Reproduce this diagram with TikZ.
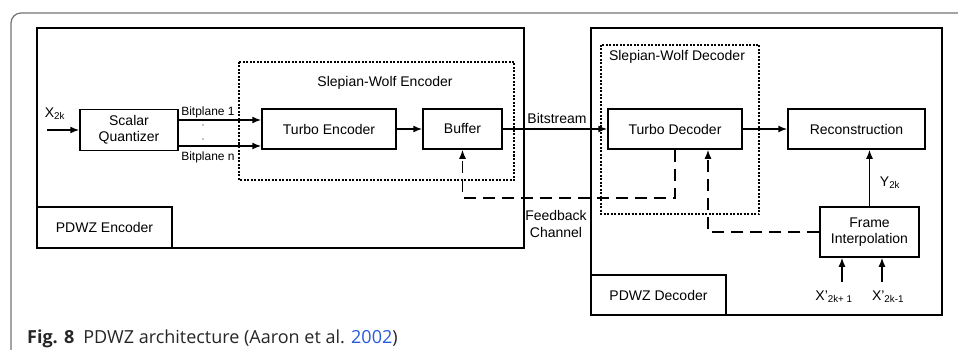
\documentclass[tikz,border=0pt]{standalone}
\usepackage{fontspec}
\setmainfont{Liberation Sans}
\newfontfamily\legendefont{Open Sans}
\usetikzlibrary{arrows.meta}
\definecolor{lien}{RGB}{40,90,220}
\tikzset{
  bloc/.style={draw, line width=1.5pt, align=center, inner sep=0pt, font=\fontsize{14}{16.5}\selectfont},
  texte/.style={inner sep=0pt, font=\fontsize{14}{16.5}\selectfont},
  petit/.style={inner sep=0pt, font=\fontsize{12}{14}\selectfont},
  fleche/.style={-{Latex[length=9pt,width=7pt]}, line width=1.5pt},
  retour/.style={line width=1.5pt, dash pattern=on 12pt off 7pt},
  pointille/.style={line width=1.2pt, dash pattern=on 2pt off 1.5pt},
}
\begin{document}
\begin{tikzpicture}[x=1pt, y=-1pt]
  \useasboundingbox (0,0) rectangle (958,350);
  % cadre de la figure
  \draw[black!55, line width=1.2pt, rounded corners=10pt] (11,350) -- (11,13) -- (958,13);

  % dessiner les cadres encodeur / decodeur
  \draw[line width=1.5pt] (37,28) rectangle (524,248);
  \draw[line width=1.5pt] (591,28) rectangle (942,315);
  \draw[pointille] (239,62) rectangle (514,180);
  \draw[pointille] (601,45) rectangle (759,214);
  \node[texte] (swe) at (385,83) {Slepian-Wolf Encoder};
  \node[texte] (swd) at (677,57) {Slepian-Wolf Decoder};

  % dessiner les blocs
  \node[bloc, minimum width=98pt, minimum height=41pt] (quant) at (129,130) {Scalar\\Quantizer};
  \node[bloc, minimum width=134pt, minimum height=40pt] (tenc) at (329,129) {Turbo Encoder};
  \node[bloc, minimum width=79pt, minimum height=40pt] (buf) at (462.5,129) {Buffer};
  \node[bloc, minimum width=134pt, minimum height=40pt] (tdec) at (675,129) {Turbo Decoder};
  \node[bloc, minimum width=137pt, minimum height=40pt] (recon) at (856.5,129) {Reconstruction};
  \node[bloc, minimum width=99pt, minimum height=50pt] (interp) at (869.5,232) {Frame\\Interpolation};
  \node[bloc, minimum width=135pt, minimum height=41pt] (encl) at (104.5,227.5) {PDWZ Encoder};
  \node[bloc, minimum width=135pt, minimum height=40pt] (decl) at (658.5,295) {PDWZ Decoder};

  % dessiner les fleches
  \coordinate (xin) at (47,130);
  \draw[fleche] (xin) -- (quant.west);
  \node[texte] (x2k) at (55,114) {X\textsubscript{2k}};
  \draw[fleche] (quant.east |- 0,120) -- (tenc.west |- 0,120);
  \draw[fleche] (quant.east |- 0,146) -- (tenc.west |- 0,146);
  \node[petit] (bp1) at (208,112) {Bitplane 1};
  \node[petit] (bpn) at (208,157) {Bitplane n};
  \fill (203,125) circle (0.6pt) (203,139) circle (0.6pt);
  \draw[fleche] (tenc) -- (buf);
  \draw[fleche] (buf) -- (tdec);
  \node[texte] (bits) at (557,118) {Bitstream};
  \draw[fleche] (tdec) -- (recon);
  \draw[fleche] (interp.north) -- (interp.north |- recon.south);
  \node[texte] (y2k) at (890,183) {Y\textsubscript{2k}};

  % canal de retour
  \draw[retour, -{Latex[length=9pt,width=7pt]}] (tdec.south) -- ++(0,48) -| (buf.south);
  \draw[retour, -{Latex[length=9pt,width=7pt]}] (interp.west) -| ([xshift=33pt]tdec.south);
  \node[texte, align=center] (fb) at (556,224) {Feedback\\Channel};

  % images voisines
  \coordinate (xa) at (842,282);
  \coordinate (xb) at (882,282);
  \draw[fleche] (xa) -- (xa |- interp.south);
  \draw[fleche] (xb) -- (xb |- interp.south);
  \node[texte] (xpa) at (834,297) {X'\textsubscript{2k+ 1}};
  \node[texte] (xpb) at (888,297) {X'\textsubscript{2k-1}};

  % legende
  \node[anchor=base west, inner sep=0pt, text=black!85, font=\legendefont\fontsize{18}{21}\selectfont] (leg) at (27,343)
    {\textbf{Fig. 8}\hspace{9pt}PDWZ architecture (Aaron et al. \textcolor{lien}{2002})};
\end{tikzpicture}
\end{document}
